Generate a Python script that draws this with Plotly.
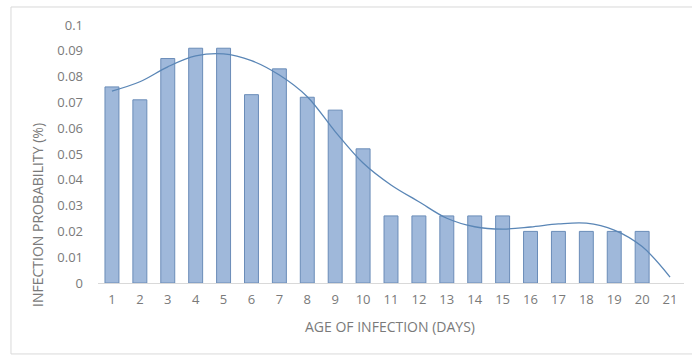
import plotly.graph_objects as go

days = list(range(1, 22))
probability = [0.076, 0.071, 0.087, 0.091, 0.091, 0.073, 0.083, 0.072, 0.067, 0.052,
               0.026, 0.026, 0.026, 0.026, 0.026, 0.020, 0.020, 0.020, 0.020, 0.020, None]
trend = [0.0744, 0.0780, 0.0838, 0.0880, 0.0888, 0.0862, 0.0806, 0.0722, 0.0587, 0.0465,
         0.0380, 0.0315, 0.0251, 0.0218, 0.0209, 0.0217, 0.0229, 0.0232, 0.0205, 0.0141, 0.0023]
y_ticks = [0, 0.01, 0.02, 0.03, 0.04, 0.05, 0.06, 0.07, 0.08, 0.09, 0.1]
y_ticktext = ["0", "0.01", "0.02", "0.03", "0.04", "0.05", "0.06", "0.07", "0.08", "0.09", "0.1"]

FONT = "Open Sans"
GRAY = "#7a7a7a"

fig = go.Figure()
fig.add_trace(go.Bar(
    x=days, y=probability, width=0.5,
    marker=dict(color="#9fb8da", line=dict(color="#6a8cb8", width=1)),
    showlegend=False,
))
fig.add_trace(go.Scatter(
    x=days, y=trend, mode="lines", line=dict(color="#5a86b6", width=1.3, shape="spline"),
    showlegend=False,
))

fig.update_layout(
    width=692, height=358,
    margin=dict(l=98, r=8, t=25, b=75),
    paper_bgcolor="white", plot_bgcolor="white",
    font=dict(family=FONT, size=13, color=GRAY),
    xaxis=dict(
        range=[0.5, 21.5], tickmode="array", tickvals=days, ticktext=[str(d) for d in days],
        showgrid=False, showline=False, zeroline=False, ticks="",
        tickfont=dict(size=13, color=GRAY), ticklabelstandoff=7,
    ),
    yaxis=dict(
        range=[0, 0.1], tickmode="array", tickvals=y_ticks, ticktext=y_ticktext,
        showgrid=False, showline=False, zeroline=True, zerolinecolor="#d9d9d9", zerolinewidth=1,
        ticks="", tickfont=dict(size=13, color=GRAY), ticklabelstandoff=14,
    ),
    annotations=[
        dict(text="AGE OF INFECTION (DAYS)", xref="paper", yref="paper", x=0.498, y=-0.1705,
             showarrow=False, xanchor="center", yanchor="middle",
             font=dict(family=FONT, size=14, color=GRAY)),
        dict(text="INFECTION PROBABILITY (%)", xref="paper", yref="paper", x=-0.1024, y=0.2636,
             showarrow=False, xanchor="center", yanchor="middle", textangle=-90,
             font=dict(family=FONT, size=14, color=GRAY)),
    ],
    shapes=[
        dict(type="rect", xref="paper", yref="paper", x0=-0.1485, x1=1.02, y0=-0.275, y1=1.0698,
             line=dict(color="#d9d9d9", width=1), layer="below"),
    ],
)

fig.write_html("out.html", config={"displayModeBar": False},
               post_script="document.body.style.margin='0';")
